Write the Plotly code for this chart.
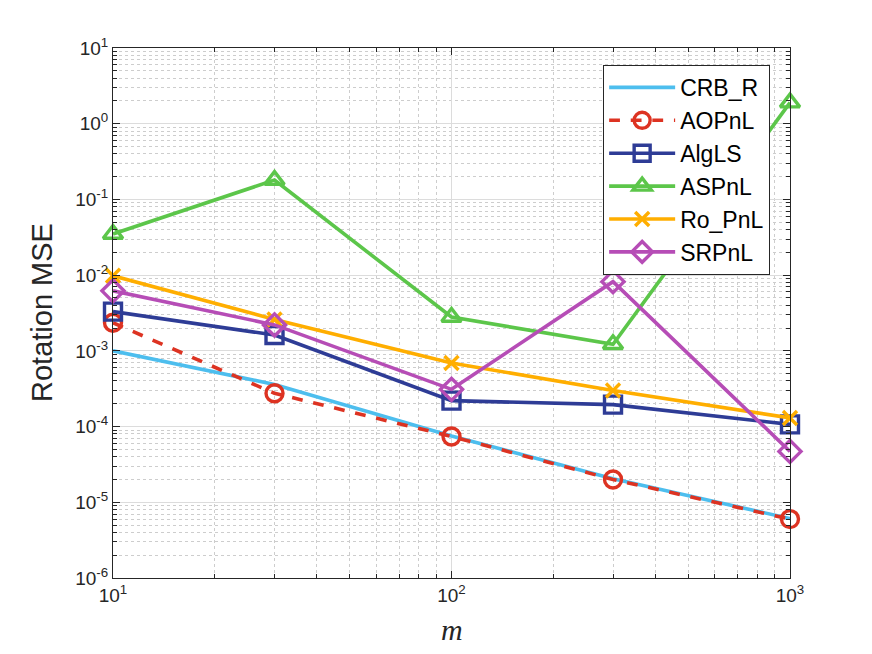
import plotly.graph_objects as go

m = [10, 30, 100, 300, 1000]

crb_r = [1.0e-3, 3.6e-4, 7.5e-5, 2.05e-5, 6.1e-6]
aopnl = [2.35e-3, 2.75e-4, 7.4e-5, 2.0e-5, 6.0e-6]
alg_ls = [3.3e-3, 1.62e-3, 2.2e-4, 1.95e-4, 1.07e-4]
aspnl = [0.035, 0.18, 2.8e-3, 1.22e-3, 1.9]
ro_pnl = [9.8e-3, 2.6e-3, 6.9e-4, 3.0e-4, 1.3e-4]
srpnl = [6.2e-3, 2.2e-3, 3.1e-4, 8.2e-3, 4.7e-5]

names = ["CRB_R", "AOPnL", "AlgLS", "ASPnL", "Ro_PnL", "SRPnL"]
series = [crb_r, aopnl, alg_ls, aspnl, ro_pnl, srpnl]
colors = ["#4DBEEE", "#DD3322", "#2E3C96", "#5CC64A", "#FFAE00", "#B64DB6"]
symbols = [None, "circle-open", "square-open", "triangle-up-open", "x-thin-open", "diamond-open"]
dashes = ["solid", "dash", "solid", "solid", "solid", "solid"]

x_tickvals = [10, 100, 1000]
x_ticktext = ["10<sup>1</sup>", "10<sup>2</sup>", "10<sup>3</sup>"]
y_exps = [-6, -5, -4, -3, -2, -1, 0, 1]
y_tickvals = [10.0 ** e for e in y_exps]
y_ticktext = ["10<sup>%d</sup>" % e for e in y_exps]

fig = go.Figure()
for i, (nm, ys) in enumerate(zip(names, series)):
    if symbols[i] is None:
        mode = "lines"
        marker = None
    else:
        mode = "lines+markers"
        marker = dict(symbol=symbols[i], size=17 if symbols[i] != "x-thin-open" else 14,
                      color=colors[i], line=dict(color=colors[i], width=3.4))
    fig.add_trace(go.Scatter(
        x=m, y=ys, name=nm, mode=mode, marker=marker,
        line=dict(color=colors[i], width=3.6, dash=dashes[i]),
        cliponaxis=False, legendgroup=nm,
    ))

axis_common = dict(
    type="log",
    showline=True, linecolor="#262626", linewidth=1, mirror="ticks",
    ticks="inside", ticklen=7, tickcolor="#262626", tickwidth=1,
    showgrid=True, gridcolor="#DCDCDC", gridwidth=1,
    zeroline=False,
    tickfont=dict(family="Liberation Sans, Arial, sans-serif", size=19, color="#262626"),
    minor=dict(dtick="D1", ticks="inside", ticklen=4, tickcolor="#262626",
               showgrid=True, gridcolor="#CDCDCD", griddash="dot", gridwidth=1),
)

fig.update_xaxes(range=[1, 3], tickvals=x_tickvals, ticktext=x_ticktext, **axis_common)
fig.update_yaxes(range=[-6, 1], tickvals=y_tickvals, ticktext=y_ticktext, **axis_common)

fig.update_layout(
    width=872, height=654,
    margin=dict(l=105, r=90, t=40, b=84),
    plot_bgcolor="white", paper_bgcolor="white",
    showlegend=True,
    legend=dict(
        x=0.724, y=0.968, xanchor="left", yanchor="top",
        bgcolor="white", bordercolor="#262626", borderwidth=1,
        font=dict(family="Liberation Sans, Arial, sans-serif", size=23, color="#000000"),
        itemwidth=66, tracegroupgap=0,
    ),
    annotations=[
        dict(text="<i>m</i>", xref="paper", yref="paper", x=0.5, y=0,
             xanchor="center", yanchor="middle", yshift=-51, showarrow=False,
             font=dict(family="Liberation Serif, Times New Roman, serif", size=30, color="#262626")),
        dict(text="Rotation MSE", xref="paper", yref="paper", x=0, y=0.5,
             xanchor="center", yanchor="middle", xshift=-71, textangle=-90, showarrow=False,
             font=dict(family="Liberation Sans, Arial, sans-serif", size=29, color="#262626")),
    ],
)

fig.write_html("out.html")
